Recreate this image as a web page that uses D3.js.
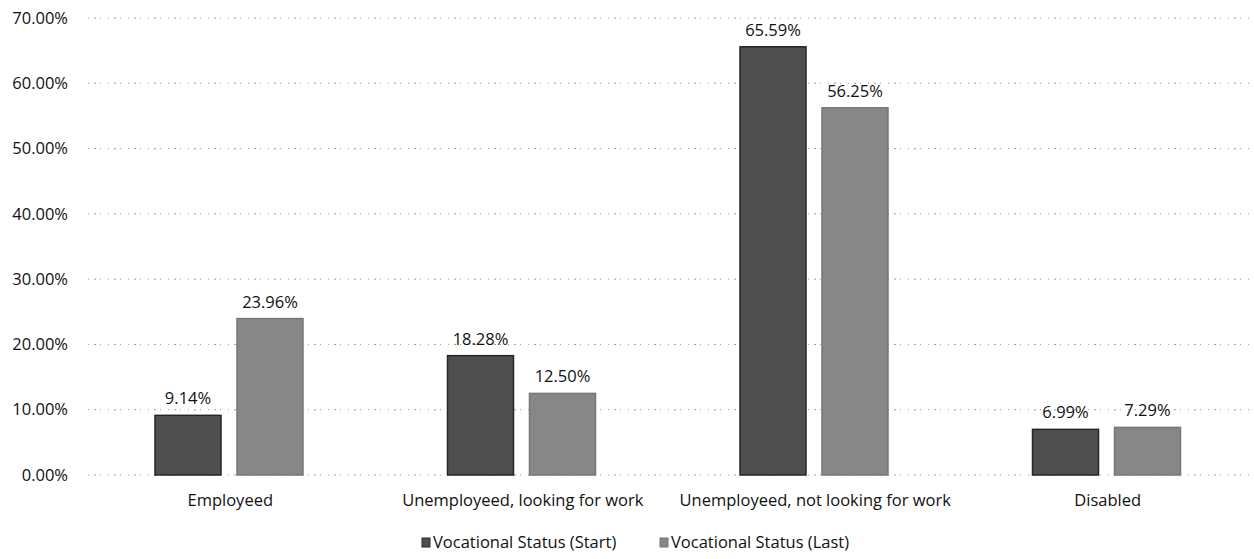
<!DOCTYPE html>
<html>
<head>
<meta charset="utf-8">
<script src="https://cdn.jsdelivr.net/npm/d3@7"></script>
<style>
  body { margin: 0; background: #fff; }
  svg { display: block; font-family: "Open Sans", "Noto Sans", sans-serif; }
</style>
</head>
<body>
<svg id="chart" width="1254" height="559"></svg>
<script>
const categories = ['Employeed', 'Unemployeed, looking for work', 'Unemployeed, not looking for work', 'Disabled'];
const seriesNames = ['Vocational Status (Start)', 'Vocational Status (Last)'];
const startValues = [9.14, 18.28, 65.59, 6.99];
const lastValues = [23.96, 12.50, 56.25, 7.29];
const yTicks = [0, 10, 20, 30, 40, 50, 60, 70];

const colors = ['#4f4f4f', '#878787'];
const strokes = ['#262626', '#777777'];
const fontSize = 16.5;

const width = 1254, height = 559;
const margin = { top: 18, right: 0, bottom: 84, left: 84 };

const svg = d3.select('#chart');

const x = d3.scaleBand()
  .domain(categories)
  .range([margin.left, width - margin.right]);

// bars sit in the middle of each band, 66px wide with a 16px gap
const x1 = d3.scaleBand()
  .domain(seriesNames)
  .range([71, 219])
  .paddingInner(0.195);

const y = d3.scaleLinear()
  .domain([0, 70])
  .range([height - margin.bottom, margin.top]);

// gridlines
svg.append('g')
  .selectAll('line')
  .data(yTicks)
  .join('line')
  .attr('x1', margin.left + 4)
  .attr('x2', width)
  .attr('y1', d => y(d))
  .attr('y2', d => y(d))
  .attr('stroke', '#9a9a9a')
  .attr('stroke-width', 1)
  .attr('stroke-dasharray', '1,5,2,4,1,7');

// y axis labels
const yAxis = d3.axisLeft(y).tickValues(yTicks).tickSize(0).tickPadding(0)
  .tickFormat(d => d.toFixed(2) + '%');
svg.append('g')
  .attr('transform', `translate(${margin.left - 16},0)`)
  .call(yAxis)
  .call(g => g.select('.domain').remove())
  .call(g => g.selectAll('text')
    .attr('font-size', fontSize)
    .attr('fill', '#111')
    .attr('font-family', '"Open Sans", sans-serif'));

const rows = categories.map((c, i) => ({ cat: c, vals: [startValues[i], lastValues[i]] }));

const groups = svg.append('g')
  .selectAll('g')
  .data(rows)
  .join('g')
  .attr('transform', d => `translate(${x(d.cat)},0)`);

groups.selectAll('rect')
  .data(d => d.vals.map((v, j) => ({ v, s: seriesNames[j], j })))
  .join('rect')
  .attr('x', d => x1(d.s))
  .attr('width', x1.bandwidth())
  .attr('y', d => y(d.v))
  .attr('height', d => y(0) - y(d.v))
  .attr('fill', d => colors[d.j])
  .attr('stroke', d => strokes[d.j])
  .attr('stroke-width', 1.5);

groups.selectAll('text.val')
  .data(d => d.vals.map((v, j) => ({ v, s: seriesNames[j], j })))
  .join('text')
  .attr('class', 'val')
  .attr('x', d => x1(d.s) + x1.bandwidth() / 2)
  .attr('y', d => y(d.v) - 11)
  .attr('text-anchor', 'middle')
  .attr('font-size', fontSize)
  .attr('fill', '#111')
  .text(d => d.v.toFixed(2) + '%');

// x axis labels
const xAxis = d3.axisBottom(x).tickSize(0).tickPadding(0);
svg.append('g')
  .attr('transform', `translate(0,${y(0) + 19})`)
  .call(xAxis)
  .call(g => g.select('.domain').remove())
  .call(g => g.selectAll('text')
    .attr('font-size', fontSize)
    .attr('fill', '#111')
    .attr('font-family', '"Open Sans", sans-serif'));

// legend
const legendX = [422, 660];
const legend = svg.append('g')
  .selectAll('g')
  .data(seriesNames)
  .join('g')
  .attr('transform', (d, i) => `translate(${legendX[i]},548)`);
legend.append('rect')
  .attr('x', 0).attr('y', -10)
  .attr('width', 8).attr('height', 9)
  .attr('fill', (d, i) => colors[i])
  .attr('stroke', (d, i) => strokes[i]);
legend.append('text')
  .attr('x', 11).attr('y', 0)
  .attr('font-size', fontSize)
  .attr('fill', '#111')
  .text(d => d);
</script>
</body>
</html>
